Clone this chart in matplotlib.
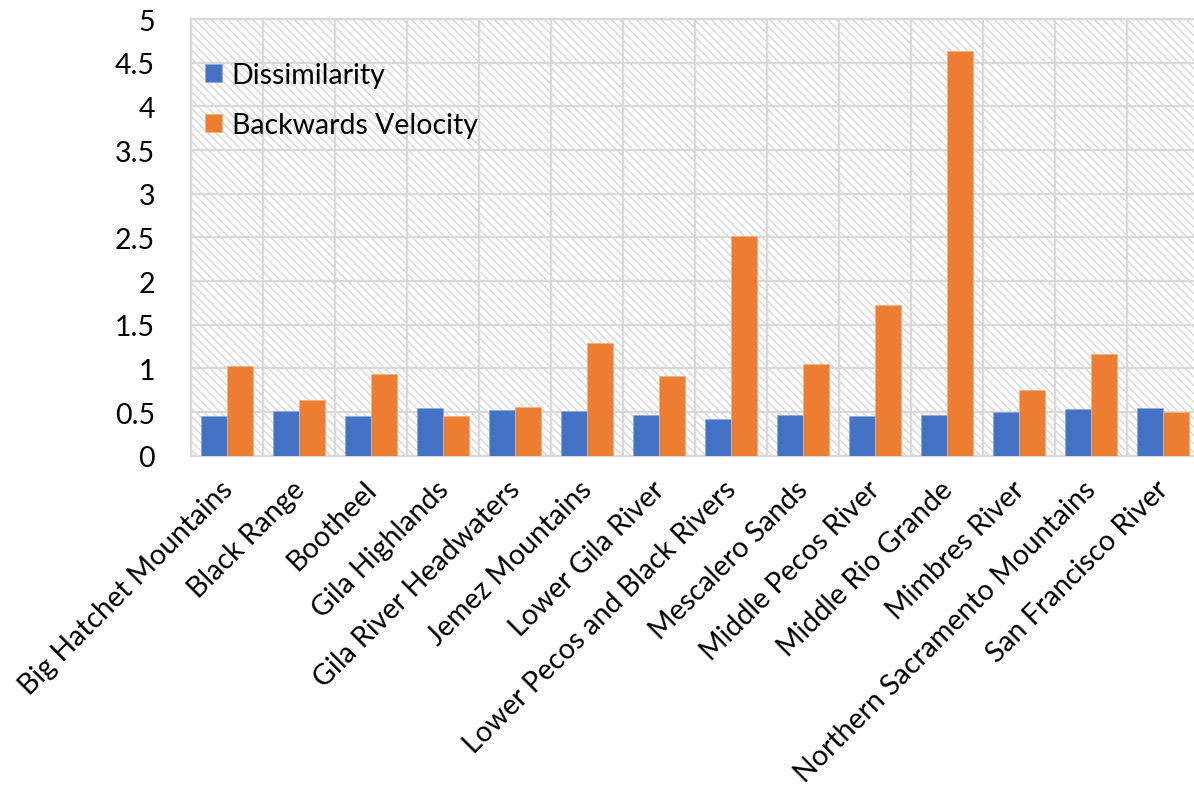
import numpy as np
import matplotlib.pyplot as plt
from matplotlib.patches import Rectangle

plt.rcParams['font.family'] = ['Lato', 'DejaVu Sans']
plt.rcParams['hatch.linewidth'] = 0.9
plt.rcParams['hatch.color'] = '#d4d4d4'

regions = [
    "Big Hatchet Mountains", "Black Range", "Bootheel", "Gila Highlands",
    "Gila River Headwaters", "Jemez Mountains", "Lower Gila River",
    "Lower Pecos and Black Rivers", "Mescalero Sands", "Middle Pecos River",
    "Middle Rio Grande", "Mimbres River", "Northern Sacramento Mountains",
    "San Francisco River",
]
dissimilarity = [0.46, 0.51, 0.45, 0.55, 0.52, 0.51, 0.47, 0.42, 0.47, 0.46,
                 0.47, 0.50, 0.54, 0.55]
backwards_velocity = [1.03, 0.64, 0.93, 0.45, 0.56, 1.29, 0.91, 2.52, 1.05,
                      1.73, 4.63, 0.75, 1.17, 0.50]

blue = '#4472C4'
orange = '#ED7D31'
grid = '#d9d9d9'

fig = plt.figure(figsize=(11.94, 8.04), dpi=100)
ax = fig.add_axes([0.16, 0.432, 0.844, 0.543])

# hatched plot area
ax.add_patch(Rectangle((0, 0), 1, 1, transform=ax.transAxes, facecolor='white',
                       edgecolor='#d4d4d4', hatch='\\\\\\\\', linewidth=0,
                       zorder=0))

x = np.arange(len(regions))
w = 0.36
ax.bar(x - w / 2, dissimilarity, w, color=blue, edgecolor='#8fa9dc',
       linewidth=0.5, label='Dissimilarity', zorder=3)
ax.bar(x + w / 2, backwards_velocity, w, color=orange, edgecolor='#f4b183',
       linewidth=0.5, label='Backwards Velocity', zorder=3)

ax.set_xlim(-0.5, len(regions) - 0.5)
ax.set_ylim(0, 5)
ax.set_yticks(np.arange(0, 5.01, 0.5))
ax.set_yticklabels(['0', '0.5', '1', '1.5', '2', '2.5', '3', '3.5', '4',
                    '4.5', '5'])
# slanted labels sit a touch left of the category centre
ax.set_xticks(x - 0.11)
ax.set_xticklabels(regions, rotation=45, ha='right', rotation_mode='anchor')
ax.set_xticks(np.arange(-0.5, len(regions), 1), minor=True)

ax.grid(True, axis='y', which='major', color=grid, linewidth=1.6, zorder=1)
ax.grid(True, axis='x', which='minor', color=grid, linewidth=1.6, zorder=1)
ax.set_axisbelow(True)
ax.tick_params(axis='both', which='both', length=0, labelsize=20.5,
               labelcolor='black')
ax.tick_params(axis='y', pad=26)
ax.tick_params(axis='x', pad=14.5)
for s in ax.spines.values():
    s.set_color(grid)
    s.set_linewidth(1.6)

ax.legend(loc='upper left', bbox_to_anchor=(-0.012, 0.96), frameon=False,
          fontsize=20.5, handlelength=0.6, handleheight=0.6, handletextpad=0.35,
          labelspacing=0.85)

fig.savefig('out.png', dpi=100)
